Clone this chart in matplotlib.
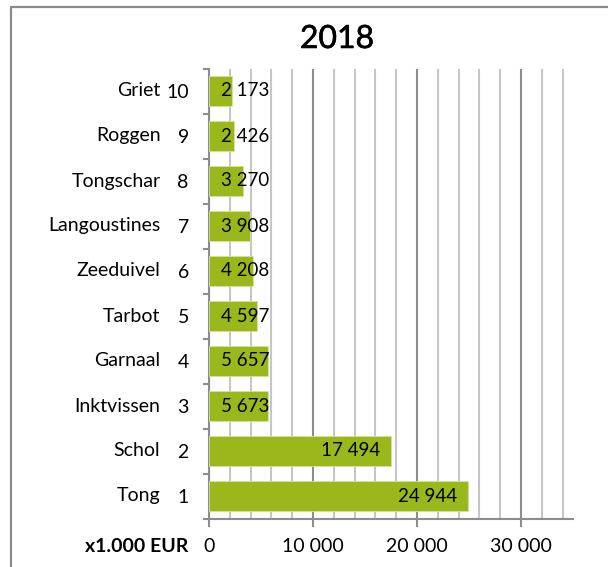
import matplotlib.pyplot as plt
import matplotlib.lines as mlines
import matplotlib.patheffects as pe
from matplotlib.ticker import MultipleLocator, FixedLocator, FuncFormatter

plt.rcParams['font.family'] = ['Lato', 'DejaVu Sans']

# Data (rank 1 at the bottom)
ranks = [1, 2, 3, 4, 5, 6, 7, 8, 9, 10]
species = ['Tong', 'Schol', 'Inktvissen', 'Garnaal', 'Tarbot',
           'Zeeduivel', 'Langoustines', 'Tongschar', 'Roggen', 'Griet']
values = [24944, 17494, 5673, 5657, 4597, 4208, 3908, 3270, 2426, 2173]
xticks = [0, 10000, 20000, 30000]

green = '#9ab81b'
grid_light = '#c6c6c6'
grid_dark = '#8c8c8c'
fs = 14


def fmt(v):
    return '{:,}'.format(int(v)).replace(',', ' ')


fig = plt.figure(figsize=(6.08, 5.67), dpi=100)
ax = fig.add_axes([209 / 608, 1 - 518.5 / 567, 364 / 608, 450 / 567])

y = list(range(len(values)))
ax.barh(y, values, height=0.66, color=green, edgecolor='#d5e3a0',
        linewidth=0.6, zorder=3)

ax.set_xlim(0, 35000)
ax.set_ylim(-0.5, len(values) - 0.5)

# x axis
ax.xaxis.set_major_locator(FixedLocator(xticks))
ax.xaxis.set_minor_locator(MultipleLocator(2000))
ax.xaxis.set_major_formatter(FuncFormatter(lambda v, p: fmt(v)))
ax.grid(axis='x', which='minor', color=grid_light, linewidth=1.5, zorder=0)
ax.grid(axis='x', which='major', color=grid_dark, linewidth=1.5, zorder=0)
ax.set_axisbelow(True)
ax.tick_params(axis='x', which='major', length=6, width=1.5, color=grid_dark,
               labelsize=fs, pad=8)
ax.tick_params(axis='x', which='minor', length=0)

# y axis: ranks as tick labels, boundary tick marks
ax.set_yticks(y)
ax.set_yticklabels([str(r) for r in ranks])
ax.yaxis.set_minor_locator(FixedLocator([i - 0.5 for i in range(len(values) + 1)]))
ax.tick_params(axis='y', which='major', length=0, labelsize=fs, pad=14.5)
ax.tick_params(axis='y', which='minor', length=4, width=1.5, color=grid_dark)
ax.tick_params(axis='y', which='minor', left=True)

for s in ['top', 'right']:
    ax.spines[s].set_visible(False)
for s in ['left', 'bottom']:
    ax.spines[s].set_color(grid_dark)
    ax.spines[s].set_linewidth(1.5)

# species names (outer label column)
for yi, name in zip(y, species):
    ax.annotate(name, xy=(0, yi), xycoords=('axes fraction', 'data'),
                xytext=(-35, 0), textcoords='offset points',
                ha='right', va='center', fontsize=fs)

# value labels
for yi, v in zip(y, values):
    if v > 10000:
        ax.annotate(fmt(v), xy=(v, yi), xytext=(-8, 0),
                    textcoords='offset points', ha='right', va='center',
                    fontsize=13.5, zorder=4)
    else:
        ax.annotate(fmt(v), xy=(0, yi), xytext=(8.5, 0),
                    textcoords='offset points', ha='left', va='center',
                    fontsize=13.5, zorder=4)

# unit label
ax.annotate('x1.000 EUR', xy=(0, 0), xycoords='axes fraction',
            xytext=(-14.5, -14), textcoords='offset points',
            ha='right', va='top', fontsize=fs, fontweight='bold')

fig.text(337 / 608, 1 - 39 / 567, '2018', ha='center', va='center',
         fontsize=23,
         path_effects=[pe.withStroke(linewidth=0.4, foreground='black')])

# outer frame
fig.add_artist(mlines.Line2D([11 / 608, 11 / 608, 1], [0, 1 - 7 / 567, 1 - 7 / 567],
                             transform=fig.transFigure, color='#8a8a8a',
                             linewidth=1.6))

fig.savefig('out.png', dpi=100)
